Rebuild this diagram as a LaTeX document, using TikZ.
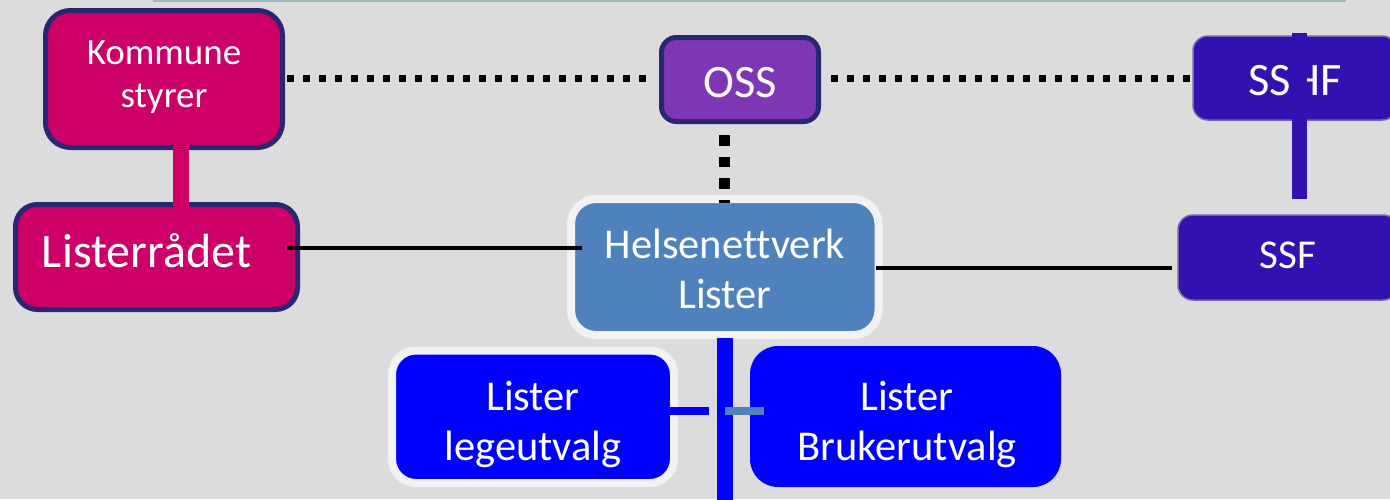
\documentclass[tikz,border=0pt]{standalone}
\usepackage{fontspec}
\setmainfont{Carlito}[Ligatures=NoCommon]
\usetikzlibrary{calc}
\definecolor{bgc}{HTML}{DCDCDC}
\definecolor{topc}{HTML}{9FB6BC}
\definecolor{magc}{HTML}{CC0066}
\definecolor{navyc}{HTML}{2B2672}
\definecolor{purc}{HTML}{7F36B4}
\definecolor{dbluec}{HTML}{3211B0}
\definecolor{dblueedge}{HTML}{7A62A8}
\definecolor{steelc}{HTML}{4F81BD}
\definecolor{lightc}{HTML}{F2F2F2}
\definecolor{bluec}{HTML}{0000FF}
\tikzset{
  boxbase/.style={rectangle, inner sep=0pt, outer sep=0pt},
  magbox/.style={boxbase, fill=magc, draw=navyc, line width=5pt},
  txt/.style={text=white, inner sep=0pt, outer sep=0pt, anchor=base},
  hdot/.style={draw=black, line width=7pt, dash pattern=on 7pt off 9pt},
  vdot/.style={draw=black, line width=10.7pt, dash pattern=on 10.7pt off 11pt},
  blackline/.style={draw=black, line width=4pt},
}
\begin{document}
\begin{tikzpicture}[x=1pt,y=-1pt]
\useasboundingbox (0,0) rectangle (1390,499);
\fill[bgc] (0,0) rectangle (1390,499);
\draw[topc, line width=1.5pt] (153,0.75) -- (1346,0.75);

% boxes
\node[magbox, rounded corners=25pt, minimum width=237pt, minimum height=137pt] (kom) at (164,79) {};
\node[magbox, rounded corners=22pt, minimum width=282pt, minimum height=105pt] (lis) at (156.5,257) {};
\draw[magc, line width=16pt] ([xshift=17pt,yshift=2pt]kom.south) -- ([xshift=17pt,yshift=-2pt]kom.south |- lis.north);
\node[boxbase, fill=purc, draw=navyc, line width=5pt, rounded corners=15pt, minimum width=157pt, minimum height=84pt] (oss) at (740,79.5) {};
\node[boxbase, fill=steelc, draw=lightc, line width=8pt, rounded corners=25pt, minimum width=307.5pt, minimum height=136pt] (hel) at (724.75,267) {};
\node[boxbase, fill=dbluec, draw=dblueedge, line width=1.5pt, rounded corners=15pt, minimum width=204pt, minimum height=84pt] (sshf) at (1295,78) {};
\node[boxbase, fill=dbluec, draw=dblueedge, line width=1.5pt, rounded corners=15pt, minimum width=220pt, minimum height=85pt] (ssf) at (1288,257.5) {};
\node[boxbase, fill=bluec, draw=lightc, line width=8pt, rounded corners=24pt, minimum width=282pt, minimum height=132.5pt] (leg) at (533,416.75) {};
\node[boxbase, fill=bluec, rounded corners=28pt, minimum width=311pt, minimum height=141pt] (bru) at (905.5,416.5) {};

% texts
\node[txt, font=\fontsize{37}{43}\selectfont] (komt1) at (164,64) {Kommune};
\node[txt, font=\fontsize{37}{43}\selectfont] (komt2) at (164,107) {styrer};
\node[txt, font=\fontsize{48}{56}\selectfont] (list) at (146.5,267) {Listerrådet};
\node[txt, font=\fontsize{46.5}{55}\selectfont] (osst) at (740,97) {OSS};
\node[txt, font=\fontsize{42.5}{50}\selectfont] (helt1) at (725,258) {Helsenettverk};
\node[txt, font=\fontsize{42.5}{50}\selectfont] (helt2) at (725,308) {Lister};
\node[txt, font=\fontsize{46.5}{55}\selectfont] (sshft) at (1295,95) {SSHF};
\node[txt, font=\fontsize{41}{48}\selectfont] (ssft) at (1288,268) {SSF};
\node[txt, font=\fontsize{42.5}{50}\selectfont] (legt1) at (533,410) {Lister};
\node[txt, font=\fontsize{42.5}{50}\selectfont] (legt2) at (533,460) {legeutvalg};
\node[txt, font=\fontsize{42.5}{50}\selectfont] (brut1) at (907,410) {Lister};
\node[txt, font=\fontsize{42.5}{50}\selectfont] (brut2) at (907,460) {Brukerutvalg};

% dotted connectors
\draw[hdot] ([xshift=4.5pt,yshift=1pt]kom.east) -- ([xshift=-14.5pt,yshift=1.5pt]oss.west);
\draw[hdot] ([xshift=12.5pt,yshift=1.5pt]oss.east) -- ([xshift=-3pt]sshf.west);
\draw[vdot] ([yshift=-13.5pt]oss.south -| hel.north) -- ([yshift=-4pt]hel.north);

% solid connectors
\draw[blackline] ([xshift=-10.5pt,yshift=9pt]lis.east) -- ([xshift=11pt,yshift=19pt]hel.west);
\draw[blackline] ([xshift=-2.5pt,yshift=-1pt]hel.east) -- ([xshift=-6pt,yshift=-1pt]ssf.west |- hel.east);

% SSHF - SSF bar
\draw[dbluec, line width=15pt] ([xshift=4.5pt,yshift=3pt]sshf.north) -- ([xshift=11.5pt,yshift=16pt]ssf.north);

% blue bar below Helsenettverk
\coordinate (bbot) at (724.75,505);
\coordinate (bmid) at (724.75,411);
\coordinate (legend) at (709,411);
\draw[bluec, line width=16pt] ([yshift=-3pt]hel.south) -- (bbot);
\draw[bluec, line width=8pt] ([xshift=-4pt,yshift=5.75pt]leg.east) -- (legend);
\draw[steelc, line width=8pt] (bmid) -- ([xshift=14pt,yshift=5.5pt]bru.west);
\end{tikzpicture}
\end{document}
